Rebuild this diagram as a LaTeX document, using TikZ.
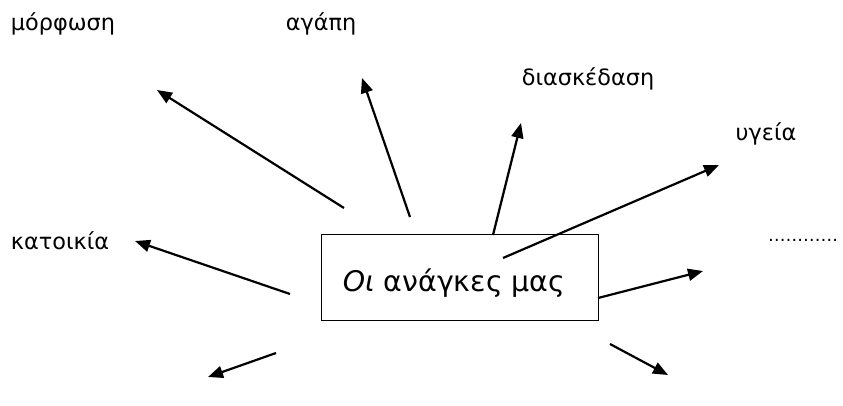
\documentclass[tikz,border=0pt]{standalone}
\usepackage{fontspec}
\setmainfont{DejaVu Sans}
\usetikzlibrary{arrows.meta}
\begin{document}
\begin{tikzpicture}[x=1pt,y=-1pt,
  lbl/.style={inner sep=0pt,font=\fontsize{22.4}{26}\selectfont},
  arr/.style={line width=2.2pt,-{Triangle[length=15pt,width=12pt]}},
  mainbox/.style={draw,line width=1pt,minimum width=277pt,minimum height=86pt,inner sep=0pt}]
\useasboundingbox (0,0) rectangle (843,405);
% labels
\node[lbl] (morf) at (63,24) {μόρφωση};
\node[lbl] (agapi) at (321,24) {αγάπη};
\node[lbl] (diask) at (588,79) {διασκέδαση};
\node[lbl] (ygeia) at (766,134) {υγεία};
\node[lbl] (katoik) at (60,241) {κατοικία};
\node[inner sep=0pt,font=\fontsize{17.5}{20}\selectfont] (dots) at (803,240) {…………};
% central box
\node[mainbox] (box) at (459.5,277) {};
\node[inner sep=0pt,font=\fontsize{28.4}{32}\selectfont] (boxtxt) at (454,283) {\textit{Οι} ανάγκες μας};
% arrow ends
\coordinate (t1) at (344,208); \coordinate (h1) at (157,90);
\coordinate (t2) at (410,217); \coordinate (h2) at (362,78);
\coordinate (t3) at (493,235); \coordinate (h3) at (521,123);
\coordinate (t4) at (503,258); \coordinate (h4) at (719,165);
\coordinate (t5) at (290,294); \coordinate (h5) at (135,241);
\coordinate (t6) at (598,298); \coordinate (h6) at (703,271);
\coordinate (t7) at (276,353); \coordinate (h7) at (208,377);
\coordinate (t8) at (610,344); \coordinate (h8) at (668,375);
\draw[arr] (t1) -- (h1);
\draw[arr] (t2) -- (h2);
\draw[arr] (t3) -- (h3);
\draw[arr] (t4) -- (h4);
\draw[arr] (t5) -- (h5);
\draw[arr] (t6) -- (h6);
\draw[arr] (t7) -- (h7);
\draw[arr] (t8) -- (h8);
\end{tikzpicture}
\end{document}
